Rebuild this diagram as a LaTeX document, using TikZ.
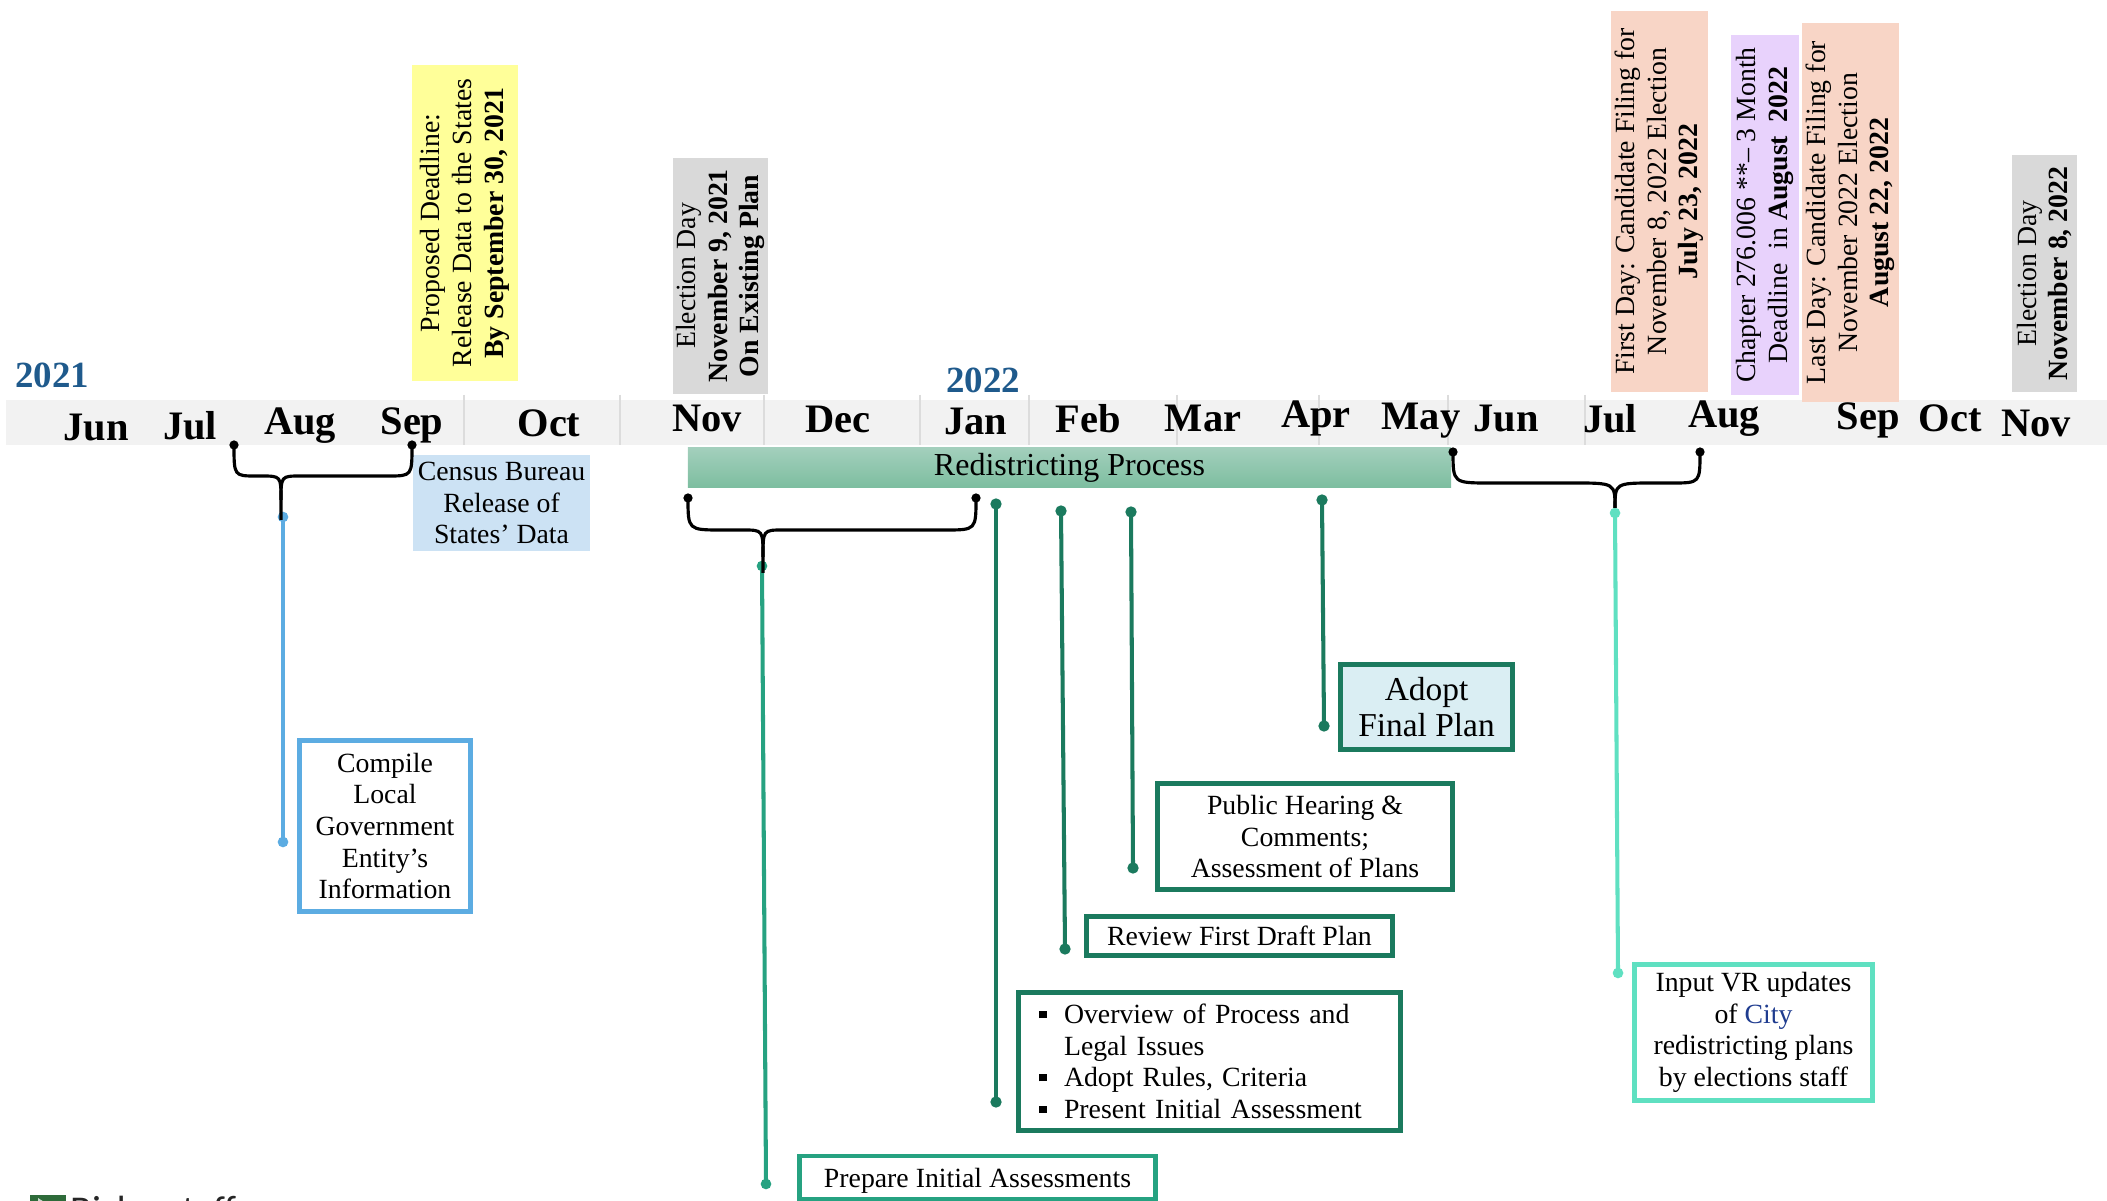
\documentclass[tikz,border=0pt]{standalone}
\usepackage{fontspec}
\setmainfont{Liberation Serif}
\newfontfamily\logofont{Carlito}

\definecolor{bandgray}{HTML}{F2F2F2}
\definecolor{sepgray}{HTML}{DCDCDC}
\definecolor{yearblue}{HTML}{1F5A8C}
\definecolor{noteyellow}{HTML}{FFFF99}
\definecolor{notegray}{HTML}{D9D9D9}
\definecolor{notesalmon}{HTML}{F8D5C6}
\definecolor{notelilac}{HTML}{E8D2FC}
\definecolor{censusblue}{HTML}{CCE2F4}
\definecolor{compileblue}{HTML}{5CACE2}
\definecolor{darkgreen}{HTML}{1B7A5E}
\definecolor{prepgreen}{HTML}{26A281}
\definecolor{aquagreen}{HTML}{5FE0C1}
\definecolor{adoptcyan}{HTML}{DAEEF3}
\definecolor{bartop}{HTML}{A3CFBC}
\definecolor{barbottom}{HTML}{7DBEA0}
\definecolor{cityblue}{HTML}{1F3C8F}
\definecolor{logogreen}{HTML}{2E6B3A}

\newcommand{\notefont}{\fontsize{7.9}{9}\selectfont}
\newcommand{\bul}{\makebox[7pt][l]{\rule[1.6pt]{2.1pt}{2.1pt}}}

\tikzset{
  month/.style={font=\fontsize{11.5}{13}\selectfont\bfseries, anchor=base, inner sep=0pt},
  yearlabel/.style={font=\fontsize{10.5}{12}\selectfont\bfseries, text=yearblue, anchor=base, inner sep=0pt},
  datenote/.style={rotate=90, align=center, inner sep=0pt, font=\notefont},
  taskbox/.style={draw=darkgreen, line width=1.4pt, align=center, inner sep=0pt, font=\notefont},
  tickline/.style={line width=1.15pt},
  bracket/.style={line width=0.9pt, black},
  sepline/.style={sepgray, line width=0.4pt}
}

\begin{document}
\begin{tikzpicture}[x=0.01cm, y=-0.01cm]
    \useasboundingbox (0,0) rectangle (2107,1201);

    % month band
    \fill[bandgray] (6,400) rectangle (2107,445);
    \foreach \sx in {464,620,764,920,1029,1177,1319,1448,1585}
        \draw[sepline] (\sx,395) -- (\sx,445);
    \foreach \mx/\my/\mname [count=\i] in {96/441/Jun, 190/440/Jul, 300/435/Aug, 412/435/Sep,
            549/437/Oct, 707/432/Nov, 838/433/Dec, 976/435/Jan, 1088/433/Feb, 1203/432/Mar,
            1316/428/Apr, 1421/430/May, 1506/432/Jun, 1610/433/Jul, 1724/428/Aug,
            1868/430/Sep, 1950/432/Oct, 2036/437/Nov}
        \node[month] (month\i) at (\mx,\my) {\mname};
    \node[yearlabel] (year2021) at (52,388) {2021};
    \node[yearlabel] (year2022) at (983,393) {2022};

    % dates above the band
    \node[datenote, fill=noteyellow, minimum width=3.16cm, minimum height=1.05cm] (datadeadline) at (465,223)
        {Proposed Deadline:\\Release Data to the States\\\textbf{By September 30, 2021}};
    \node[datenote, fill=notegray, minimum width=2.36cm, minimum height=0.95cm] (election2021) at (720.5,276)
        {Election Day\\\textbf{November 9, 2021}\\\textbf{On Existing Plan}};
    \node[datenote, fill=notesalmon, minimum width=3.81cm, minimum height=0.97cm] (filingfirst) at (1659.5,201.5)
        {First Day: Candidate Filing for\\November 8, 2022 Election\\\textbf{July 23, 2022}};
    \node[datenote, fill=notelilac, minimum width=3.60cm, minimum height=0.68cm] (chapterdeadline) at (1765,215)
        {Chapter 276.006 **-- 3 Month\\Deadline\ \ in \textbf{August\ \ 2022}};
    \node[datenote, fill=notesalmon, minimum width=3.79cm, minimum height=0.97cm] (filinglast) at (1850.5,212.5)
        {Last Day: Candidate Filing for\\November 2022 Election\\\textbf{August 22, 2022}};
    \node[datenote, fill=notegray, minimum width=2.37cm, minimum height=0.65cm] (election2022) at (2044.5,273.5)
        {Election Day\\\textbf{November 8, 2022}};

    % below the band
    \node[fill=censusblue, minimum width=1.77cm, minimum height=0.95cm, align=center, inner sep=0pt,
          font=\notefont] (censusrelease) at (501.5,503) {Census Bureau\\Release of\\States’ Data};
    \node[minimum width=7.63cm, minimum height=0.39cm, top color=bartop, bottom color=barbottom,
          inner sep=0pt, font=\fontsize{9.1}{10}\selectfont] (redistricting) at (1069.5,467.5) {Redistricting Process};

    % task boxes
    \node[taskbox, draw=compileblue, minimum width=1.71cm, minimum height=1.71cm] (compile) at (385,826)
        {Compile\\Local\\Government\\Entity’s\\Information};
    \node[taskbox, fill=adoptcyan, minimum width=1.72cm, minimum height=0.85cm,
          font=\fontsize{9.5}{10}\selectfont] (adopt) at (1426.5,707) {Adopt\\Final Plan};
    \node[taskbox, minimum width=2.95cm, minimum height=1.06cm] (hearing) at (1305,836.5)
        {Public Hearing \&\\Comments;\\Assessment of Plans};
    \node[taskbox, minimum width=3.06cm, minimum height=0.39cm] (review) at (1239.5,936)
        {Review First Draft Plan};
    \node[taskbox, align=left, text width=3.4cm, minimum width=3.82cm, minimum height=1.38cm] (overview) at (1209.5,1061.5)
        {\bul Overview of Process and\\\hphantom{\bul}Legal Issues\\\bul Adopt Rules, Criteria\\\bul Present Initial Assessment};
    \node[taskbox, draw=prepgreen, text depth=0pt, minimum width=3.56cm, minimum height=0.43cm] (prepare) at (977.5,1177.5)
        {Prepare Initial Assessments};
    \node[taskbox, draw=aquagreen, minimum width=2.38cm, minimum height=1.36cm] (inputvr) at (1753.5,1032.5)
        {Input VR updates\\of {\color{cityblue}City}\\redistricting plans\\by elections staff};

    % lines from the timeline to the boxes
    \coordinate (compiletop) at (283,517);   \coordinate (compileend) at (283,842);
    \coordinate (preparetop) at (762,566);   \coordinate (prepareend) at (766,1184);
    \coordinate (overviewtop) at (996,504);  \coordinate (overviewend) at (996,1102);
    \coordinate (reviewtop) at (1061,511);   \coordinate (reviewend) at (1065,949);
    \coordinate (hearingtop) at (1131,512);  \coordinate (hearingend) at (1133,868);
    \coordinate (adopttop) at (1322,500);    \coordinate (adoptend) at (1324,726);
    \coordinate (inputtop) at (1615,513);    \coordinate (inputend) at (1618,973);
    \draw[tickline, compileblue] (compiletop) -- (compileend);
    \filldraw[compileblue] (compiletop) circle (1.3pt) (compileend) circle (1.3pt);
    \draw[tickline, prepgreen] (preparetop) -- (prepareend);
    \filldraw[prepgreen] (preparetop) circle (1.3pt) (prepareend) circle (1.3pt);
    \foreach \task in {overview,review,hearing,adopt} {
        \draw[tickline, darkgreen] (\task top) -- (\task end);
        \filldraw[darkgreen] (\task top) circle (1.4pt) (\task end) circle (1.4pt);
    }
    \draw[tickline, aquagreen] (inputtop) -- (inputend);
    \filldraw[aquagreen] (inputtop) circle (1.3pt) (inputend) circle (1.3pt);

    % braces
    \draw[bracket] (234,445) .. controls (234,476) .. (256,476) -- (261,476) .. controls (281,476) .. (281,500) -- (281,520);
    \draw[bracket] (281,500) .. controls (281,476) .. (301,476) -- (388,476) .. controls (412,476) .. (412,445);
    \filldraw (234,445) circle (1.1pt) (412,445) circle (1.1pt);
    \draw[bracket] (688,498) .. controls (688,530) .. (722,530) -- (743,530) .. controls (763,530) .. (763,557) -- (763,573);
    \draw[bracket] (763,557) .. controls (763,530) .. (783,530) -- (945,530) .. controls (976,530) .. (976,498);
    \filldraw (688,498) circle (1.1pt) (976,498) circle (1.1pt);
    \draw[bracket] (1453,452) .. controls (1453,483) .. (1490,483) -- (1573,483) .. controls (1615,483) .. (1615,508);
    \draw[bracket] (1615,508) .. controls (1615,483) .. (1655,483) -- (1672,483) .. controls (1700,483) .. (1700,452);
    \filldraw (1453,452) circle (1.1pt) (1700,452) circle (1.1pt);

    % logo, cut off by the page
    \fill[logogreen] (30,1195) rectangle (66,1232);
    \fill[white!75!logogreen] (38,1198) -- (60,1212) -- (38,1226) -- cycle;
    \node[anchor=base west, inner sep=0pt, text=black!85, font=\logofont\fontsize{11.2}{12}\selectfont] (logo) at (70,1223) {Bickerstaff};
\end{tikzpicture}
\end{document}
